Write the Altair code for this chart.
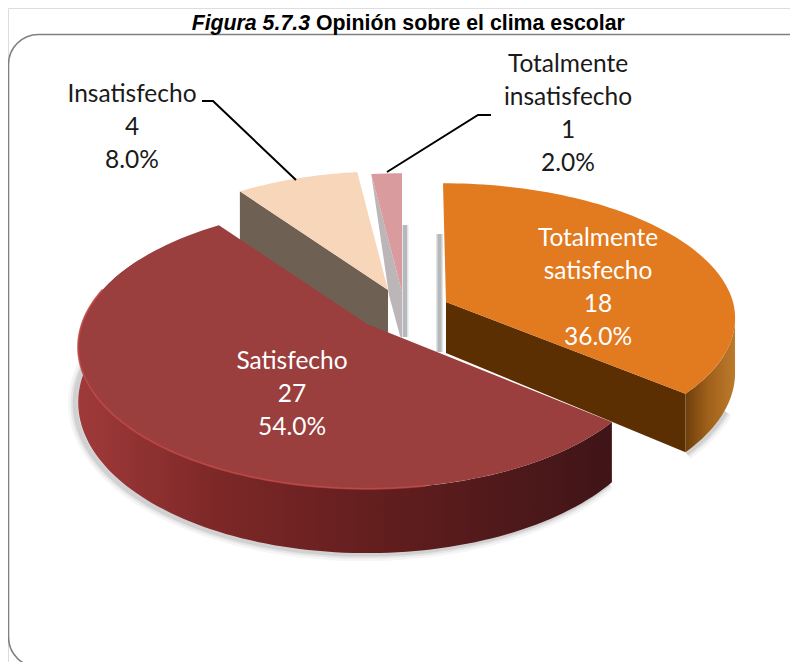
import math
import altair as alt
import pandas as pd

# ---- data
categories = ["Totalmente satisfecho", "Satisfecho", "Insatisfecho", "Totalmente insatisfecho"]
counts = [18, 27, 4, 1]
percent_labels = ["36.0%", "54.0%", "8.0%", "2.0%"]

# ---- layout (pixel space of the page)
W, H = 782, 654
DEPTH = 54.0
shape = {"Totalmente satisfecho": (287.0, 133.0, 0.12, 3.0),   # radii, perspective, lean
         "Satisfecho": (285.0, 138.0, 0.162, 0.0),
         "Insatisfecho": (285.0, 138.0, 0.162, 0.0),
         "Totalmente insatisfecho": (285.0, 138.0, 0.162, 0.0)}
apex = {"Totalmente satisfecho": (446, 302), "Satisfecho": (367, 324),
        "Insatisfecho": (388, 290), "Totalmente insatisfecho": (402, 292)}

total = sum(counts)
angles = {}
cum = 0
for c, v in zip(categories, counts):
    angles[c] = (cum / total * 360, (cum + v) / total * 360)
    cum += v


def rim(cat, deg, low=False):
    ax, ay = apex[cat]
    A, B, P, lean = shape[cat]
    t = math.radians(deg)
    u, v = math.sin(t), -math.cos(t)
    s = 1 / (1 - P * v)
    return (ax + A * u * s + lean * min(v, 0), ay + B * v * s + (DEPTH * s if low else 0))


def arc(cat, d0, d1, low=False):
    n = max(2, int(abs(d1 - d0) / 1.5))
    return [rim(cat, d0 + (d1 - d0) * i / n, low) for i in range(n + 1)]


xs = alt.Scale(domain=[8, 8 + W], range=[0, W], nice=False, zero=False)
ys = alt.Scale(domain=[8, 8 + H], range=[0, H], nice=False, zero=False)


def poly(pts, fill=None, stroke=None, width=None, opacity=None):
    df = pd.DataFrame({"x": [p[0] for p in pts], "y": [p[1] for p in pts], "i": list(range(len(pts)))})
    kw = {}
    if fill is not None:
        kw["fill"] = fill
    kw["stroke"] = stroke if stroke is not None else "transparent"
    if width is not None:
        kw["strokeWidth"] = width
    if opacity is not None:
        kw["opacity"] = opacity
    return alt.Chart(df).mark_line(interpolate="linear", **kw).encode(
        x=alt.X("x:Q", scale=xs, axis=None),
        y=alt.Y("y:Q", scale=ys, axis=None),
        order=alt.Order("i:Q"),
    )


def grad(stops, x1=0, x2=1, y1=0, y2=0):
    return alt.LinearGradient(
        gradient="linear", x1=x1, x2=x2, y1=y1, y2=y2,
        stops=[alt.GradientStop(color=c, offset=o) for o, c in stops],
    )


TS, SA, IN, TI = categories
layers = []

# frame
frame = alt.Chart(pd.DataFrame({"k": [0]})).mark_rect(
    cornerRadius=30, fill="white", stroke="#808080", strokeWidth=1.6
).encode(x=alt.value(0.5), x2=alt.value(W + 30), y=alt.value(26.5), y2=alt.value(H + 5))
layers.append(frame)

# soft shadows under the slices
sa0, sa1 = angles[SA]
ts0, ts1 = angles[TS]
low_sa = arc(SA, sa0, 288, low=True)
low_ts = arc(TS, 112, ts1, low=True)
for w, o in [(14, 0.06), (9, 0.09), (5, 0.14)]:
    layers.append(poly([(x - 3, y + 1) for x, y in low_sa], stroke="#555555", width=w, opacity=o))
    layers.append(poly([(x + 1, y + 1) for x, y in low_ts], stroke="#555555", width=w, opacity=o))

# thin grey shadow bars next to the slices
bars = pd.DataFrame({"x": [405, 439.5], "y": [225, 234], "y2": [337, 352]})
for w, o in [(7, 0.3), (4, 0.6)]:
    layers.append(alt.Chart(bars).mark_rule(stroke="#9A9EA2", strokeWidth=w, opacity=o).encode(
        x=alt.X("x:Q", scale=xs, axis=None), y=alt.Y("y:Q", scale=ys, axis=None), y2="y2:Q"))

# Totalmente insatisfecho
ti0, ti1 = angles[TI]
a_ti = apex[TI]
corner_ti = rim(TI, ti0)
layers.append(poly([corner_ti, a_ti, (a_ti[0], a_ti[1] + 46), (a_ti[0] - 2, a_ti[1] + 44),
                    (a_ti[0] - 13, a_ti[1] + 3)], fill="#BDB6B8"))
layers.append(poly([a_ti] + arc(TI, ti0, ti1), fill="#D99B9D"))

# Insatisfecho
in0, in1 = angles[IN]
a_in = apex[IN]
c_in = rim(IN, in0)
layers.append(poly([a_in, c_in, (c_in[0], c_in[1] + 50), (a_in[0], a_in[1] + DEPTH)], fill="#6E6052"))
layers.append(poly([a_in] + arc(IN, in0, in1), fill="#F8D6BA"))

# Totalmente satisfecho
a_ts = apex[TS]
side_ts = arc(TS, 98, ts1) + arc(TS, ts1, 98, low=True)
layers.append(poly(side_ts, fill=grad([(0, "#6E3E0C"), (0.45, "#A0601A"), (1, "#BC7A2A")])))
c_ts = rim(TS, ts1)
layers.append(poly([a_ts, c_ts, rim(TS, ts1, low=True), (a_ts[0], a_ts[1] + 51)], fill="#5C2F02"))
layers.append(poly([a_ts] + arc(TS, ts0, ts1), fill="#E27A20"))

# Satisfecho
a_sa = apex[SA]
side_sa = arc(SA, sa0, 300) + arc(SA, 300, sa0, low=True)
layers.append(poly(side_sa, fill=grad([(0, "#A03A3A"), (0.25, "#7E2828"), (0.55, "#641E1E"), (1, "#3F1518")])))
layers.append(poly([a_sa] + arc(SA, sa0, sa1), fill="#9A3E3E"))
layers.append(poly(arc(SA, 170, 285), stroke="#BC4545", width=2, opacity=0.85))

# leader lines
layers.append(poly([(202, 101), (213, 101), (296, 180)], stroke="black", width=2))
layers.append(poly([(491, 115), (478, 115), (387, 172)], stroke="black", width=2))

# data labels
name_lines = {TS: "Totalmente\nsatisfecho", SA: "Satisfecho", IN: "Insatisfecho", TI: "Totalmente\ninsatisfecho"}
label_x = {TS: 598, SA: 292, IN: 132, TI: 568}
label_y = {TS: 239, SA: 362, IN: 95, TI: 65}
label_color = {TS: "white", SA: "white", IN: "#1A1A1A", TI: "#1A1A1A"}
for c, v, p in zip(categories, counts, percent_labels):
    d = pd.DataFrame({"x": [label_x[c]], "y": [label_y[c]], "t": [f"{name_lines[c]}\n{v}\n{p}"]})
    layers.append(alt.Chart(d).mark_text(
        font="Lato", fontSize=24.5, lineBreak="\n", lineHeight=33, align="center", baseline="middle",
        color=label_color[c],
    ).encode(x=alt.X("x:Q", scale=xs, axis=None), y=alt.Y("y:Q", scale=ys, axis=None), text="t:N"))

# title (two runs)
t1 = pd.DataFrame({"x": [310], "y": [30], "t": ["Figura 5.7.3"]})
t2 = pd.DataFrame({"x": [316], "y": [30], "t": ["Opinión sobre el clima escolar"]})
layers.append(alt.Chart(t1).mark_text(font="Liberation Sans", fontSize=21.3, fontWeight="bold", fontStyle="italic",
                                      align="right", baseline="alphabetic", color="black").encode(
    x=alt.X("x:Q", scale=xs, axis=None), y=alt.Y("y:Q", scale=ys, axis=None), text="t:N"))
layers.append(alt.Chart(t2).mark_text(font="Liberation Sans", fontSize=21.3, fontWeight="bold",
                                      align="left", baseline="alphabetic", color="black").encode(
    x=alt.X("x:Q", scale=xs, axis=None), y=alt.Y("y:Q", scale=ys, axis=None), text="t:N"))

chart = alt.layer(*layers).properties(
    width=W, height=H, padding=0, autosize=alt.AutoSizeParams(type="none")
).configure_view(stroke=None).configure(background="white")

chart.save("out.html", embed_options={"renderer": "svg", "actions": False})
